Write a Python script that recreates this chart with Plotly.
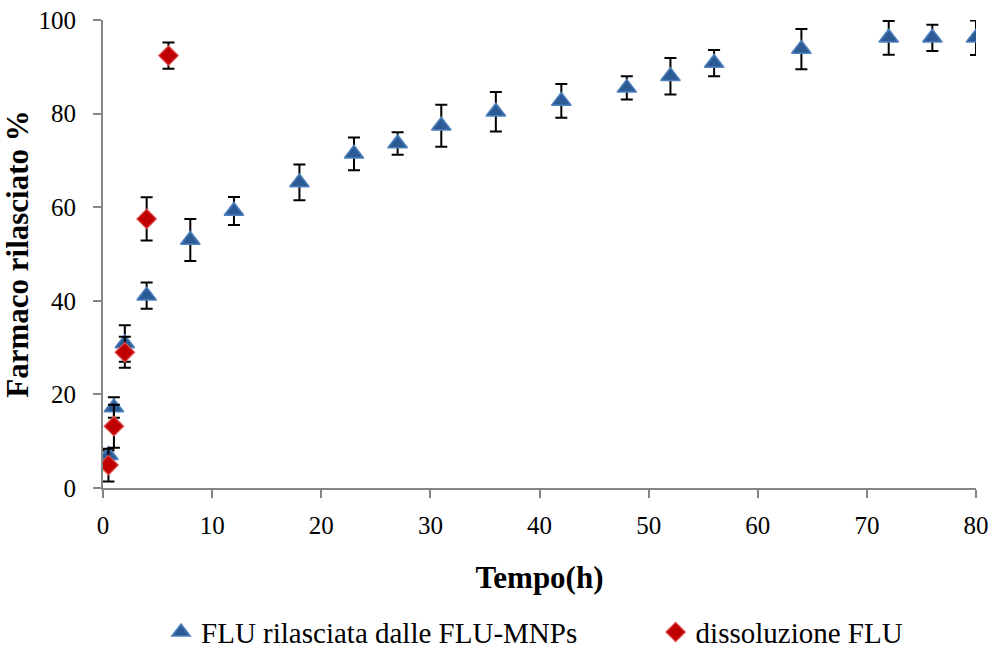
import plotly.graph_objects as go

# Blue series: FLU released from FLU-MNPs
t_mnp = [0.5, 1, 2, 4, 8, 12, 18, 23, 27, 31, 36, 42, 48, 52, 56, 64, 72, 76, 80]
y_mnp = [7.0, 17.2, 30.9, 41.1, 53.0, 59.2, 65.3, 71.4, 73.6, 77.4, 80.4, 82.7, 85.5, 88.0, 90.8, 93.8, 96.2, 96.2, 96.2]
e_mnp = [1.0, 2.2, 3.9, 2.8, 4.5, 3.0, 3.8, 3.5, 2.4, 4.5, 4.2, 3.6, 2.5, 3.9, 2.8, 4.3, 3.6, 2.8, 3.7]

# Red series: FLU dissolution
t_diss = [0.5, 1, 2, 4, 6]
y_diss = [4.9, 13.2, 29.0, 57.5, 92.4]
e_diss = [3.5, 4.6, 3.3, 4.6, 2.8]

x_ticks = [0, 10, 20, 30, 40, 50, 60, 70, 80]
y_ticks = [0, 20, 40, 60, 80, 100]

font_family = "Liberation Serif, Times New Roman, serif"

fig = go.Figure()
fig.add_trace(go.Scatter(
    x=t_mnp, y=y_mnp, mode="markers", name="FLU rilasciata dalle FLU-MNPs",
    legend="legend",
    marker=dict(symbol="triangle-up", size=17, color="#2C5A95",
                line=dict(color="#4F81BD", width=1.5)),
    error_y=dict(type="data", array=e_mnp, visible=True, color="black",
                 thickness=2, width=6),
))
fig.add_trace(go.Scatter(
    x=t_diss, y=y_diss, mode="markers", name="dissoluzione FLU",
    legend="legend2",
    marker=dict(symbol="diamond", size=15, color="#C00000",
                line=dict(color="#E05050", width=1.2)),
    error_y=dict(type="data", array=e_diss, visible=True, color="black",
                 thickness=2, width=6),
))

axis_common = dict(
    showgrid=False, zeroline=False, showline=True, linecolor="#868686",
    linewidth=2, ticks="outside", ticklen=8, tickcolor="#868686", tickwidth=1.5,
    tickfont=dict(family=font_family, size=25, color="black"),
)

legend_common = dict(orientation="h", xanchor="left", y=-0.308, yanchor="middle",
                     font=dict(size=29, family=font_family), itemwidth=30,
                     bgcolor="rgba(0,0,0,0)")

fig.update_layout(
    width=994, height=648,
    margin=dict(l=103, r=18, t=20, b=160, autoexpand=False),
    paper_bgcolor="white", plot_bgcolor="white",
    font=dict(family=font_family, color="black"),
    xaxis=dict(range=[0, 80], tickvals=x_ticks, ticklabelstandoff=6, **axis_common,
               title=dict(text="<b>Tempo(h)</b>", font=dict(size=31, family=font_family), standoff=28)),
    yaxis=dict(range=[0, 100], tickvals=y_ticks, ticklabelstandoff=12, **axis_common,
               title=dict(text="<b>Farmaco rilasciato %</b>", font=dict(size=31, family=font_family), standoff=5)),
    showlegend=True,
    legend=dict(x=0.0665, **legend_common),
    legend2=dict(x=0.633, **legend_common),
)

fig.write_html("out.html")
